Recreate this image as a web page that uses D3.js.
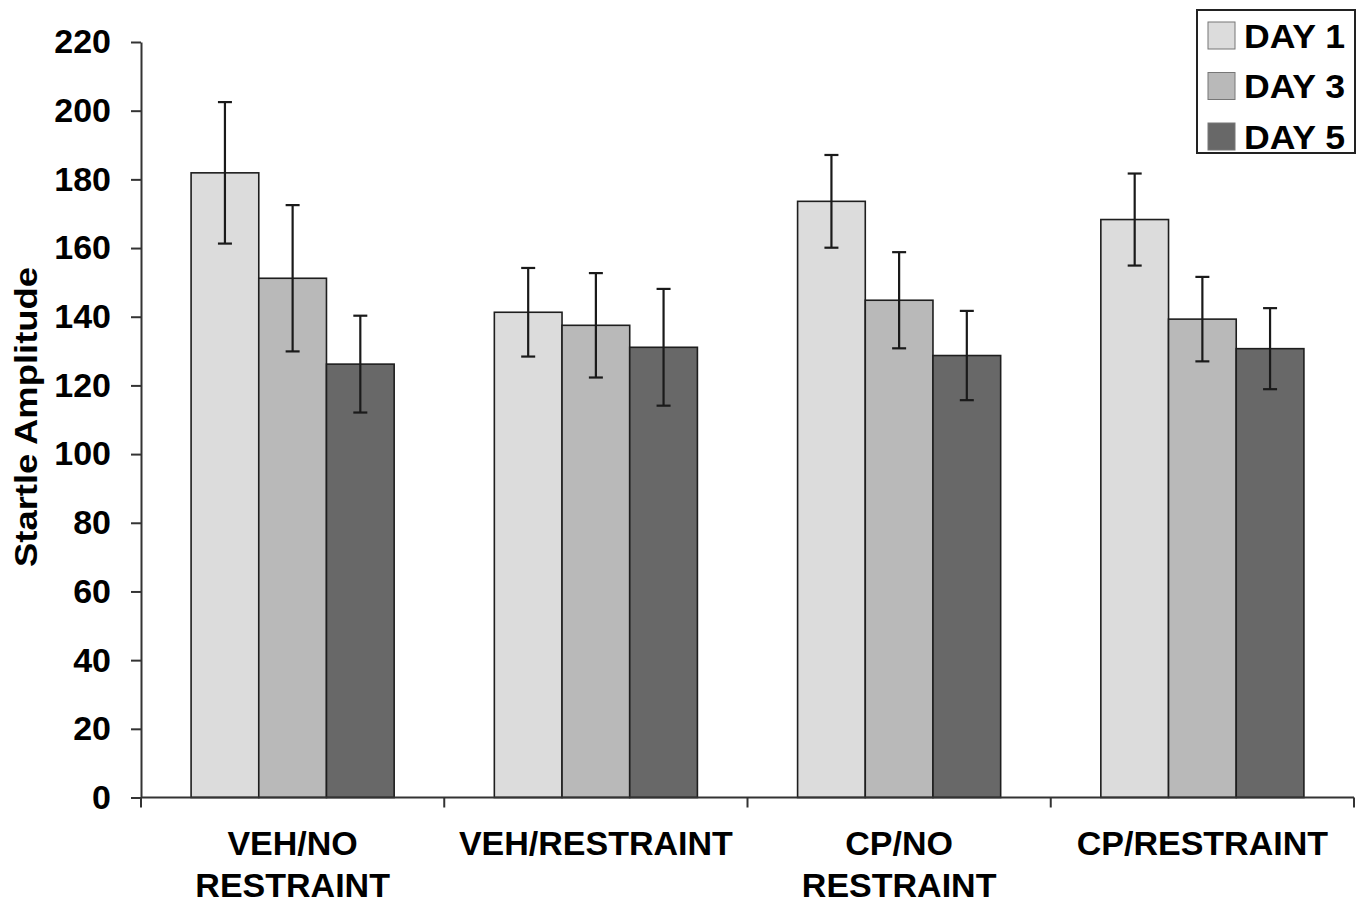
<!DOCTYPE html>
<html>
<head>
<meta charset="utf-8">
<script src="https://cdn.jsdelivr.net/npm/d3@7"></script>
<style>
  html, body { margin: 0; padding: 0; background: #fff; }
  svg { display: block; font-family: "Liberation Sans", Arial, Helvetica, sans-serif; font-weight: bold; }
</style>
</head>
<body>
<svg id="chart" width="1361" height="903"></svg>
<script>
// Groups, days and measured startle amplitudes (mean ± SEM)
const groups = ["VEH/NO RESTRAINT", "VEH/RESTRAINT", "CP/NO RESTRAINT", "CP/RESTRAINT"];
const groupLines = [["VEH/NO", "RESTRAINT"], ["VEH/RESTRAINT"], ["CP/NO", "RESTRAINT"], ["CP/RESTRAINT"]];
const days = ["DAY 1", "DAY 3", "DAY 5"];
const day1 = [181.9, 141.3, 173.6, 168.3];
const day3 = [151.2, 137.5, 144.8, 139.3];
const day5 = [126.2, 131.1, 128.7, 130.7];
const day1Err = [20.6, 12.9, 13.5, 13.4];
const day3Err = [21.3, 15.2, 14.0, 12.3];
const day5Err = [14.1, 17.0, 13.0, 11.8];
const yTicks = [0, 20, 40, 60, 80, 100, 120, 140, 160, 180, 200, 220];
const fills = ["#dcdcdc", "#b9b9b9", "#686868"];

const seriesValues = [day1, day3, day5];
const seriesErr = [day1Err, day3Err, day5Err];

const svg = d3.select("#chart");
const plotLeft = 141, plotRight = 1354, plotTop = 42, plotBottom = 797.5;

const y = d3.scaleLinear().domain([0, 220]).range([plotBottom, plotTop]);
const x0 = d3.scaleBand().domain(groups).range([plotLeft, plotRight]).padding(0);
const x1 = d3.scaleBand().domain(days).range([0, x0.bandwidth()]).paddingInner(0).paddingOuter(0.74);
const color = d3.scaleOrdinal().domain(days).range(fills);

// Bars
const barData = [];
groups.forEach((g, gi) => {
  days.forEach((d, di) => {
    barData.push({ g, d, v: seriesValues[di][gi], e: seriesErr[di][gi] });
  });
});

const bars = svg.append("g");
bars.selectAll("rect").data(barData).join("rect")
  .attr("x", d => x0(d.g) + x1(d.d))
  .attr("y", d => y(d.v))
  .attr("width", x1.bandwidth())
  .attr("height", d => y(0) - y(d.v))
  .attr("fill", d => color(d.d))
  .attr("stroke", "#1e1e1e")
  .attr("stroke-width", 1.6);

// Error bars
const errG = svg.append("g").attr("stroke", "#1a1a1a").attr("stroke-width", 2.2);
const cx = d => x0(d.g) + x1(d.d) + x1.bandwidth() / 2;
errG.selectAll("line.v").data(barData).join("line").attr("class", "v")
  .attr("x1", cx).attr("x2", cx)
  .attr("y1", d => y(d.v + d.e)).attr("y2", d => y(d.v - d.e));
errG.selectAll("line.t").data(barData).join("line").attr("class", "t")
  .attr("x1", d => cx(d) - 7).attr("x2", d => cx(d) + 7)
  .attr("y1", d => y(d.v + d.e)).attr("y2", d => y(d.v + d.e));
errG.selectAll("line.b").data(barData).join("line").attr("class", "b")
  .attr("x1", d => cx(d) - 7).attr("x2", d => cx(d) + 7)
  .attr("y1", d => y(d.v - d.e)).attr("y2", d => y(d.v - d.e));

// Y axis
const yAxis = svg.append("g")
  .attr("transform", `translate(${plotLeft},0)`)
  .call(d3.axisLeft(y).tickValues(yTicks).tickSize(10).tickPadding(20).tickSizeOuter(0));
yAxis.select(".domain").attr("stroke", "#333").attr("stroke-width", 2);
yAxis.selectAll(".tick line").attr("stroke", "#333").attr("stroke-width", 2);
yAxis.selectAll(".tick text")
  .attr("font-size", 34).attr("font-weight", "bold").attr("fill", "#000")
  .attr("font-family", "'Liberation Sans', Arial, sans-serif");

// X axis: group boundary ticks
const xAxisG = svg.append("g");
xAxisG.append("line")
  .attr("x1", plotLeft).attr("x2", plotRight).attr("y1", y(0)).attr("y2", y(0))
  .attr("stroke", "#333").attr("stroke-width", 2);
const bounds = groups.map(g => x0(g)).concat([x0(groups[groups.length - 1]) + x0.bandwidth()]);
xAxisG.selectAll("line.tk").data(bounds).join("line").attr("class", "tk")
  .attr("x1", d => d).attr("x2", d => d)
  .attr("y1", y(0)).attr("y2", y(0) + 10)
  .attr("stroke", "#333").attr("stroke-width", 2);

// Category labels
const catG = svg.append("g");
groups.forEach((g, gi) => {
  const t = catG.append("text")
    .attr("x", x0(g) + x0.bandwidth() / 2)
    .attr("y", 855)
    .attr("text-anchor", "middle")
    .attr("font-size", 34)
    .attr("fill", "#000");
  groupLines[gi].forEach((line, li) => {
    t.append("tspan")
      .attr("x", x0(g) + x0.bandwidth() / 2)
      .attr("y", 855 + li * 42)
      .text(line);
  });
});

// Y axis title
svg.append("text")
  .attr("transform", "translate(37,417) rotate(-90)")
  .attr("text-anchor", "middle")
  .attr("font-size", 31)
  .attr("textLength", 300)
  .attr("lengthAdjust", "spacingAndGlyphs")
  .attr("fill", "#000")
  .text("Startle Amplitude");

// Legend
const legend = svg.append("g");
legend.append("rect")
  .attr("x", 1197).attr("y", 10).attr("width", 158).attr("height", 143)
  .attr("fill", "#fff").attr("stroke", "#222").attr("stroke-width", 2);
days.forEach((d, i) => {
  const ly = 22 + i * 50.5;
  legend.append("rect")
    .attr("x", 1208).attr("y", ly).attr("width", 27).attr("height", 27)
    .attr("fill", color(d)).attr("stroke", "#777").attr("stroke-width", 1);
  legend.append("text")
    .attr("x", 1244).attr("y", ly + 25.5)
    .attr("font-size", 34).attr("fill", "#000")
    .attr("textLength", 101)
    .attr("lengthAdjust", "spacingAndGlyphs")
    .text(d);
});
</script>
</body>
</html>
